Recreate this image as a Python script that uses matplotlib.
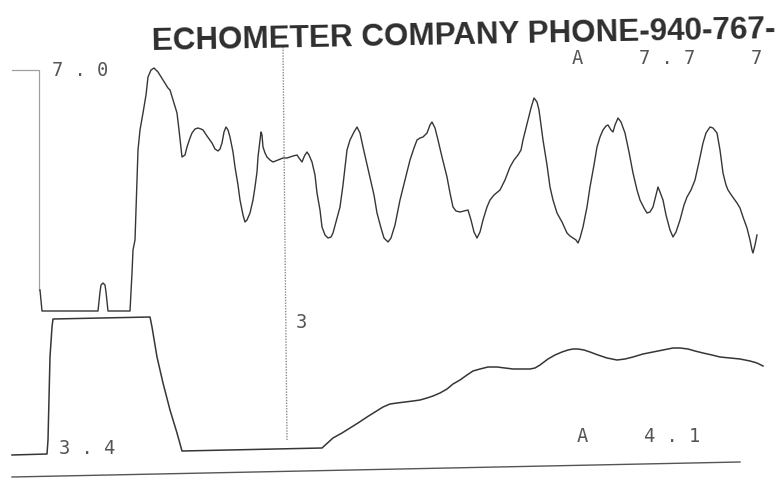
import matplotlib.pyplot as plt

# Echometer strip chart (scan), sample index vs. amplitude counts
# upper trace (casing pressure / acoustic)
upper_t = [40, 42, 98, 100, 101, 103, 105, 106, 108, 130, 132, 133, 135, 136, 137, 138,
           140, 143, 146, 148, 151, 154, 158, 163, 168, 170, 173, 177, 179, 182, 185, 187,
           190, 192, 195, 198, 201, 203, 207, 212, 215, 218, 220, 222, 224, 226, 228, 230,
           233, 235, 238, 240, 243, 245, 247, 250, 253, 255, 257, 258, 260, 261, 262, 263,
           265, 267, 270, 273, 278, 283, 287, 290, 293, 297, 299, 302, 304, 305, 307, 309,
           312, 315, 317, 320, 322, 325, 328, 331, 333, 336, 340, 343, 347, 350, 354, 357,
           360, 363, 366, 370, 374, 377, 381, 384, 388, 391, 395, 400, 405, 410, 414, 417,
           420, 423, 427, 430, 432, 435, 438, 442, 447, 450, 453, 456, 460, 464, 468, 471,
           474, 477, 480, 483, 487, 490, 494, 500, 505, 510, 514, 518, 521, 523, 526, 528,
           531, 534, 537, 539, 541, 543, 547, 550, 553, 557, 562, 567, 570, 573, 576, 578,
           580, 583, 587, 590, 594, 597, 600, 603, 606, 608, 611, 613, 615, 618, 621, 625,
           629, 633, 637, 640, 644, 647, 650, 653, 656, 658, 660, 663, 666, 670, 673, 676,
           680, 684, 687, 691, 695, 699, 703, 706, 710, 713, 717, 720, 723, 726, 728, 732,
           737, 740, 743, 747, 750, 752, 753, 755, 757]
upper_v = [197, 176, 176, 195, 202, 204, 202, 195, 176, 176, 214, 237, 247, 277, 304, 337,
           357, 374, 392, 410, 417, 419, 415, 407, 399, 397, 387, 374, 357, 330, 332, 340,
           349, 354, 358, 359, 358, 357, 351, 344, 338, 336, 338, 344, 355, 360, 357, 350,
           335, 320, 302, 287, 272, 265, 267, 274, 287, 300, 315, 330, 347, 355, 352, 340,
           334, 330, 327, 325, 327, 329, 329, 330, 331, 332, 329, 325, 330, 332, 335, 332,
           325, 312, 294, 277, 260, 252, 249, 250, 254, 265, 280, 302, 337, 347, 355, 360,
           354, 340, 327, 310, 292, 274, 259, 249, 245, 249, 262, 287, 307, 327, 339, 347,
           349, 350, 354, 362, 365, 359, 347, 330, 310, 294, 280, 276, 275, 276, 277, 267,
           255, 249, 255, 267, 280, 287, 292, 297, 307, 320, 327, 332, 337, 347, 359, 367,
           379, 389, 385, 377, 362, 347, 322, 300, 287, 274, 265, 254, 251, 249, 247, 244,
           249, 260, 280, 300, 322, 340, 350, 357, 361, 362, 357, 355, 362, 369, 365, 354,
           335, 314, 297, 287, 279, 274, 275, 280, 292, 300, 295, 287, 272, 257, 250, 255,
           267, 282, 290, 297, 307, 325, 344, 354, 360, 359, 354, 337, 314, 302, 297, 291,
           284, 279, 270, 259, 247, 237, 234, 242, 252]

# lower trace (pump / fluid)
lower_t = [12, 47, 48, 50, 52, 53, 150, 152, 157, 163, 170, 177, 182, 322, 333, 342, 350,
           358, 367, 375, 383, 390, 397, 405, 413, 420, 427, 433, 440, 447, 453, 460, 467,
           473, 480, 488, 497, 505, 513, 522, 530, 535, 540, 548, 555, 562, 568, 573, 578,
           584, 590, 598, 607, 612, 617, 625, 633, 643, 653, 663, 673, 680, 688, 695, 703,
           712, 720, 730, 740, 750, 757, 763]
lower_v = [32, 33, 47, 130, 160, 168, 170, 160, 130, 104, 77, 54, 36, 39, 49, 54, 59,
           64, 70, 75, 80, 83, 84, 85, 86, 87, 89, 91, 94, 98, 103, 107, 112,
           116, 118, 120, 120, 119, 118, 118, 118, 119, 122, 128, 132, 135, 137, 138, 138,
           137, 135, 132, 129, 128, 127, 128, 130, 133, 135, 137, 139, 139, 138, 136, 134,
           132, 130, 129, 128, 126, 124, 121]

# scale bracket, cursor line and chart base rule
scale_t = [12, 39, 39]
scale_v = [417, 417, 197]
cursor_t = [283, 287]
cursor_v = [440, 47]
rule_t = [12, 740]
rule_v = [10, 25]

fig = plt.figure(figsize=(7.83, 4.87), dpi=100)
ax = fig.add_axes([0, 0, 1, 1])
ax.set_xlim(0, 783)
ax.set_ylim(0, 487)
ax.axis('off')

ink = '#363636'
ax.plot(scale_t, scale_v, color='#a0a0a0', lw=0.9)
ax.plot(upper_t, upper_v, color=ink, lw=1.0)
ax.plot(lower_t, lower_v, color=ink, lw=1.1)
ax.plot(cursor_t, cursor_v, color='#8a8a8a', lw=1.0, ls=(0, (1, 1)))
ax.plot(rule_t, rule_v, color='#555555', lw=1.0)

# header printed on the chart paper
ax.text(152, 437, 'ECHOMETER COMPANY PHONE-940-767-', fontsize=22.6,
        fontweight='bold', family='Liberation Sans', color='#2e2e2e',
        ha='left', va='baseline', rotation=1.1, rotation_mode='anchor')

# instrument readouts
lcd = dict(family='DejaVu Sans Mono', fontsize=13.5, color='#555555', va='center', ha='left')
ax.text(52, 416, '7 . 0', **lcd)
ax.text(572, 428, 'A', **lcd)
ax.text(639, 428, '7 . 7', **lcd)
ax.text(751, 428, '7', **lcd)
ax.text(296, 165, '3', **lcd)
ax.text(59, 38, '3 . 4', **lcd)
ax.text(577, 50, 'A', **lcd)
ax.text(644, 50, '4 . 1', **lcd)

plt.savefig('out.png', dpi=100, facecolor='white')
